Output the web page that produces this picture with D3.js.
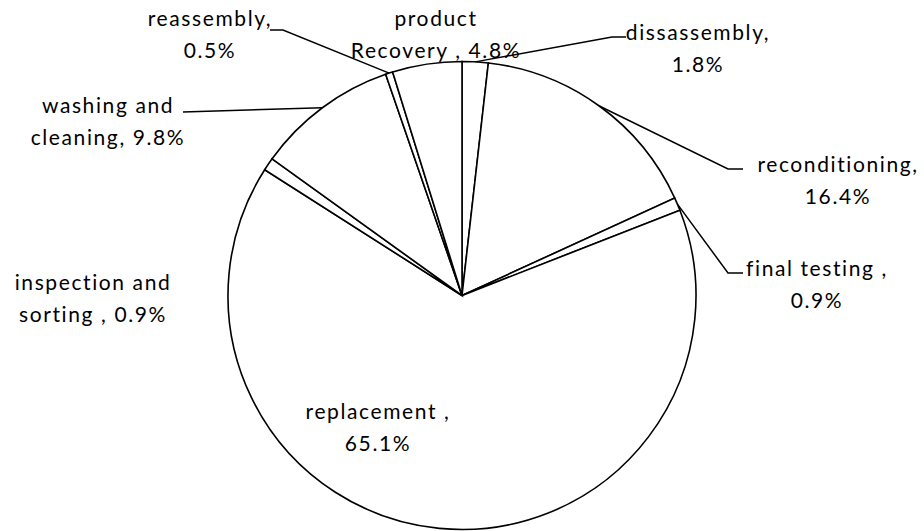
<!DOCTYPE html>
<html>
<head>
<meta charset="utf-8">
<script src="https://cdn.jsdelivr.net/npm/d3@7"></script>
<style>
  html, body { margin: 0; padding: 0; background: #fff; }
  svg { display: block; }
  text { font-family: Lato, "Open Sans", sans-serif; fill: #000; }
</style>
</head>
<body>
<svg id="chart" width="924" height="531"></svg>
<script>
// ---- data ----
const categories = ["dissassembly", "reconditioning", "final testing", "replacement",
  "inspection and sorting", "washing and cleaning", "reassembly", "product Recovery"];
const values = [1.8, 16.4, 0.9, 65.1, 0.9, 9.8, 0.5, 4.8];
const labelLines = [
  ["dissassembly,", "1.8%"],
  ["reconditioning,", "16.4%"],
  ["final testing ,", "0.9%"],
  ["replacement ,", "65.1%"],
  ["inspection and", "sorting , 0.9%"],
  ["washing and", "cleaning, 9.8%"],
  ["reassembly,", "0.5%"],
  ["product", "Recovery , 4.8%"]
];

// ---- layout (positions only) ----
const cx = 462, cy = 295.5, R = 234;
const labelPos = [
  [698, 40], [838, 172], [817, 276], [378, 419],
  [93, 290], [108, 113], [210, 26], [436, 26]
];
const lineGap = 32;
// leader: [start point, elbow point] (null = none); end at arc midpoint
const leaders = [
  [[626, 37], [612, 37]],
  [[743, 169], [728, 169]],
  [[743, 273], [728, 273]],
  null,
  null,
  [[183, 112], [183, 112]],
  [[270, 30], [283, 30]],
  null
];

const svg = d3.select("#chart");
const g = svg.append("g").attr("transform", `translate(${cx},${cy})`);

const pie = d3.pie().sort(null).value(d => d).startAngle(0).endAngle(2 * Math.PI);
const arcs = pie(values);
const arc = d3.arc().innerRadius(0).outerRadius(R);
const edge = d3.arc().innerRadius(R).outerRadius(R);

g.selectAll("path.slice")
  .data(arcs)
  .join("path")
  .attr("class", "slice")
  .attr("d", arc)
  .attr("fill", "#fff")
  .attr("stroke", "#000")
  .attr("stroke-width", 1.6)
  .attr("stroke-linejoin", "miter");

// leader lines
arcs.forEach((a, i) => {
  const L = leaders[i];
  if (!L) return;
  const m = edge.centroid(a);
  const pts = [L[0], L[1], [m[0] + cx, m[1] + cy]];
  svg.append("path")
    .attr("d", d3.line()(pts))
    .attr("fill", "none")
    .attr("stroke", "#000")
    .attr("stroke-width", 1.5);
});

// labels
const lab = svg.selectAll("text.lab")
  .data(arcs)
  .join("text")
  .attr("class", "lab")
  .attr("text-anchor", "middle")
  .attr("font-size", 21)
  .attr("letter-spacing", 1.6)
  .attr("x", (d, i) => labelPos[i][0])
  .attr("y", (d, i) => labelPos[i][1]);

lab.each(function(d, i) {
  const t = d3.select(this);
  labelLines[i].forEach((s, j) => {
    t.append("tspan")
      .attr("x", labelPos[i][0])
      .attr("y", labelPos[i][1] + j * lineGap)
      .text(s);
  });
});
</script>
</body>
</html>
